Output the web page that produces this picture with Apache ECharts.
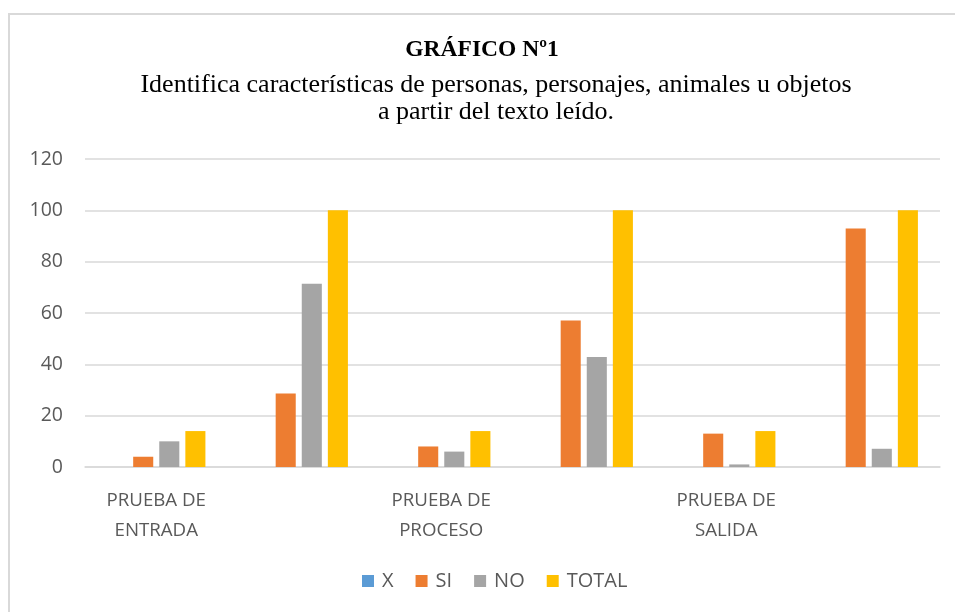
<!DOCTYPE html>
<html>
<head>
<meta charset="utf-8">
<script src="https://cdn.jsdelivr.net/npm/echarts@6/dist/echarts.min.js"></script>
<style>
  html, body { margin: 0; padding: 0; background: #fff; }
  #frame {
    position: absolute; left: 8px; top: 13px; width: 960px; height: 610px;
    border-left: 2px solid #d9d9d9; border-top: 2px solid #d9d9d9;
  }
  #chart { position: absolute; left: 0; top: 0; width: 955px; height: 612px; }
</style>
</head>
<body>
<div id="frame"></div>
<div id="chart"></div>
<script>
// Data
const categories = ['PRUEBA DE\nENTRADA', '', 'PRUEBA DE\nPROCESO', '', 'PRUEBA DE\nSALIDA', '']
const seriesNames = ['X', 'SI', 'NO', 'TOTAL']
const xValues = [0, 0, 0, 0, 0, 0]
const siValues = [4, 28.6, 8, 57.1, 13, 92.9]
const noValues = [10, 71.4, 6, 42.9, 1, 7.1]
const totalValues = [14, 100, 14, 100, 14, 100]
const colors = ['#5b9bd5', '#ed7d31', '#a5a5a5', '#ffc000']

const chart = echarts.init(document.getElementById('chart'))

const makeBar = (name, data, color) => ({
  name: name,
  type: 'bar',
  data: data,
  barGap: '30%',
  barCategoryGap: '31%',
  itemStyle: { color: color },
  emphasis: { disabled: true }
})

const option = {
  animation: false,
  title: [
    {
      text: 'GRÁFICO Nº1',
      left: 477,
      top: 33,
      textAlign: 'center',
      textStyle: { fontFamily: 'Liberation Serif', fontWeight: 'bold', fontSize: 23.5, color: '#000' }
    },
    {
      text: 'Identifica características de personas, personajes, animales u objetos\na partir del texto leído.',
      left: 491,
      top: 67,
      textAlign: 'center',
      textStyle: { fontFamily: 'Liberation Serif', fontWeight: 'normal', fontSize: 26, lineHeight: 27, color: '#000' }
    }
  ],
  legend: {
    data: seriesNames,
    top: 566,
    left: 357,
    itemWidth: 12,
    itemHeight: 12,
    itemGap: 22,
    icon: 'rect',
    textStyle: { fontFamily: 'Open Sans', fontSize: 20, color: '#595959', padding: [0, 0, 0, 3] }
  },
  grid: {
    left: 85,
    right: 15,
    top: 159,
    bottom: 145
  },
  xAxis: {
    type: 'category',
    data: categories,
    axisLine: { show: true, lineStyle: { color: '#d9d9d9', width: 1.5 } },
    axisTick: { show: false },
    axisLabel: {
      interval: 0,
      margin: 19,
      fontFamily: 'Open Sans',
      fontSize: 18.7,
      lineHeight: 30,
      color: '#595959'
    }
  },
  yAxis: {
    type: 'value',
    min: 0,
    max: 120,
    interval: 20,
    axisLine: { show: false },
    axisTick: { show: false },
    axisLabel: { fontFamily: 'Open Sans', fontSize: 19.5, color: '#595959', margin: 22 },
    splitLine: { lineStyle: { color: '#d9d9d9', width: 1.5 } }
  },
  series: [
    makeBar('X', xValues, colors[0]),
    makeBar('SI', siValues, colors[1]),
    makeBar('NO', noValues, colors[2]),
    makeBar('TOTAL', totalValues, colors[3])
  ]
}

chart.setOption(option)
</script>
</body>
</html>
